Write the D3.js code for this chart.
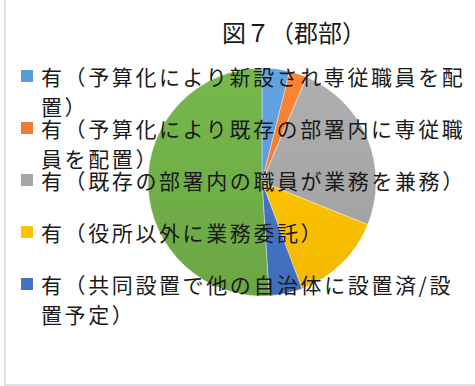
<!DOCTYPE html>
<html lang="ja">
<head>
<meta charset="utf-8">
<script src="https://cdn.jsdelivr.net/npm/d3@7"></script>
<style>
  html, body { margin: 0; padding: 0; background: #fff; }
  svg { display: block; }
  text { font-family: "Noto Sans CJK JP", "Noto Sans CJK SC", sans-serif; fill: #1a1a1a; }
</style>
</head>
<body>
<svg id="chart" width="475" height="386"></svg>
<script>
// 図７（郡部）: share of responses per category
const title = "図７（郡部）";
const categories = [
  "有（予算化により新設され専従職員を配置）",
  "有（予算化により既存の部署内に専従職員を配置）",
  "有（既存の部署内の職員が業務を兼務）",
  "有（役所以外に業務委託）",
  "有（共同設置で他の自治体に設置済/設置予定）",
  "無"
];
const values = [3.9, 2.5, 24.7, 13.2, 4.7, 51.0];
const colors = ["#5b9bd5", "#ed7d31", "#a5a5a5", "#ffc000", "#4472c4", "#70ad47"];
// wrapped legend lines (only the first five entries fit in the legend box)
const legendLines = [
  ["有（予算化により新設され専従職員を配", "置）"],
  ["有（予算化により既存の部署内に専従職", "員を配置）"],
  ["有（既存の部署内の職員が業務を兼務）"],
  ["有（役所以外に業務委託）"],
  ["有（共同設置で他の自治体に設置済/設", "置予定）"]
];

const svg = d3.select("#chart");
const W = 475, H = 386;

// chart area frame (left and bottom edges visible)
svg.append("rect")
  .attr("x", 5).attr("y", -4)
  .attr("width", W + 10).attr("height", 389)
  .attr("fill", "#fff")
  .attr("stroke", "#dde1e8").attr("stroke-width", 2);

// per-slice soft vertical shading
const defs = svg.append("defs");
colors.forEach((c, i) => {
  const g = defs.append("linearGradient")
    .attr("id", "grad" + i)
    .attr("gradientUnits", "userSpaceOnUse")
    .attr("x1", 0).attr("y1", -114).attr("x2", 0).attr("y2", 114);
  g.append("stop").attr("offset", "0%").attr("stop-color", d3.color(c).brighter(0.18));
  g.append("stop").attr("offset", "100%").attr("stop-color", d3.color(c).darker(0.12));
});

// pie
const cx = 262, cy = 182, r = 114;
const data = categories.map((c, i) => ({ category: c, value: values[i], i }));
const pie = d3.pie().value(d => d.value).sort(null);
const arc = d3.arc().innerRadius(0).outerRadius(r);

svg.append("g")
  .attr("transform", `translate(${cx},${cy})`)
  .selectAll("path")
  .data(pie(data))
  .join("path")
  .attr("d", arc)
  .attr("fill", d => `url(#grad${d.data.i})`)
  .attr("stroke", "#ffffff")
  .attr("stroke-opacity", 0.6)
  .attr("stroke-width", 0.6);

// title
svg.append("text")
  .attr("x", 294).attr("y", 31)
  .attr("text-anchor", "middle")
  .attr("dominant-baseline", "central")
  .attr("font-size", 24)
  .text(title);

// legend
const legendTop = 76, itemPitch = 52, lineHeight = 29.5;
const legend = svg.append("g");
legendLines.forEach((lines, i) => {
  const y0 = legendTop + itemPitch * i;
  legend.append("rect")
    .attr("x", 21).attr("y", y0 - 6)
    .attr("width", 12).attr("height", 12)
    .attr("fill", colors[i]);
  lines.forEach((line, j) => {
    legend.append("text")
      .attr("x", 41).attr("y", y0 + j * lineHeight)
      .attr("dominant-baseline", "central")
      .attr("font-size", 21)
      .attr("letter-spacing", 2.6)
      .text(line);
  });
});
</script>
</body>
</html>
